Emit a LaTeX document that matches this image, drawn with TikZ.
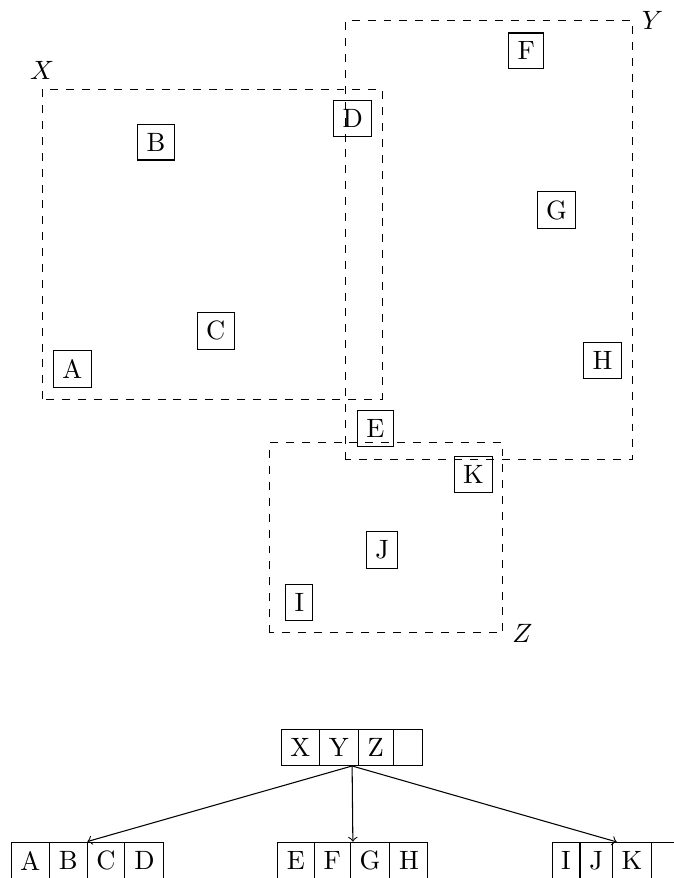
\documentclass[tikz,border=0pt]{standalone}
\usetikzlibrary{shapes.multipart}
\tikzset{
  entry/.style={draw},
  region/.style={draw,dashed},
  splitrow/.style={draw,rectangle split,rectangle split horizontal,rectangle split parts=4}
}
\begin{document}
\begin{tikzpicture}
\useasboundingbox (0,0) rectangle (8.926,11.645);
% entries
\node[entry] (a) at (0.96,6.75) {A};
\node[entry] (b) at (2.07,9.76) {B};
\node[entry] (c) at (2.86,7.26) {C};
\node[entry] (d) at (4.68,10.07) {D};
\node[entry] (e) at (4.98,5.96) {E};
\node[entry] (f) at (6.98,10.97) {F};
\node[entry] (g) at (7.38,8.86) {G};
\node[entry] (h) at (7.99,6.86) {H};
\node[entry] (i) at (3.97,3.65) {I};
\node[entry] (j) at (5.07,4.35) {J};
\node[entry] (k) at (6.28,5.35) {K};
% regions
\draw[region] (0.56,6.35) rectangle (5.07,10.46);
\node[above] (lx) at (0.56,10.46) {$X$};
\draw[region] (4.58,5.55) rectangle (8.39,11.37);
\node[right] (ly) at (8.39,11.37) {$Y$};
\draw[region] (3.57,3.25) rectangle (6.67,5.77);
\node[right] (lz) at (6.67,3.25) {$Z$};
% tree
\node[splitrow] (root) at (4.67,1.73) {X\nodepart{two}Y\nodepart{three}Z\nodepart{four}};
\node[splitrow] (nx) at (1.16,0.23) {A\nodepart{two}B\nodepart{three}C\nodepart{four}D};
\node[splitrow] (ny) at (4.68,0.23) {E\nodepart{two}F\nodepart{three}G\nodepart{four}H};
\node[splitrow] (nz) at (8.18,0.23) {I\nodepart{two}J\nodepart{three}K\nodepart{four}};
\draw[->] (root.south) -- (nx.north);
\draw[->] (root.south) -- (ny.north);
\draw[->] (root.south) -- (nz.north);
\end{tikzpicture}
\end{document}
